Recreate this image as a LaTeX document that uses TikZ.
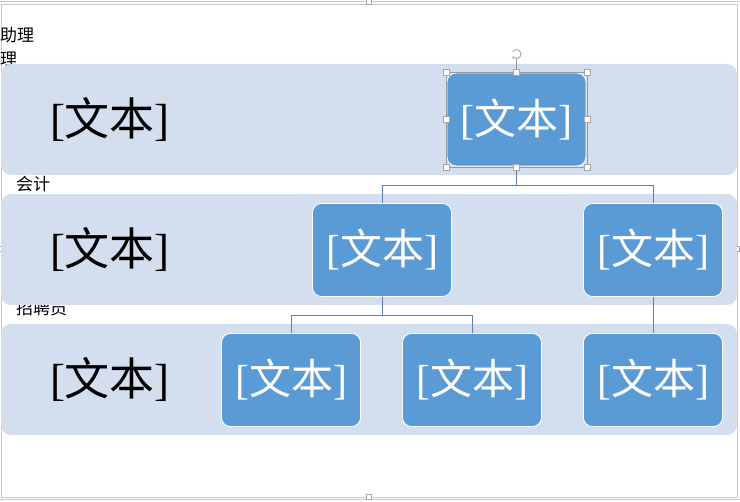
\documentclass[tikz,border=0pt]{standalone}
\usepackage{fontspec}
\newfontfamily\cjk{Noto Sans CJK SC}
\newfontfamily\brk{Liberation Serif}
\usetikzlibrary{arrows.meta}
\definecolor{bandc}{RGB}{211,222,239}
\definecolor{boxc}{RGB}{91,155,213}
\definecolor{linec}{RGB}{90,128,180}
\definecolor{framec}{RGB}{200,200,200}
\newcommand\wbtext{{\brk[}{\cjk 文本}{\brk]}}
\begin{document}
\begin{tikzpicture}[x=1pt,y=-1pt,
  band/.style={fill=bandc,draw=none,rounded corners=10pt,minimum width=736pt,minimum height=111pt,inner sep=0pt},
  orgbox/.style={fill=boxc,draw=white,line width=0.8pt,rounded corners=9pt,minimum width=139pt,minimum height=93pt,inner sep=0pt,text=white,font=\fontsize{42}{42}\selectfont},
  lefttext/.style={text=black,inner sep=0pt,font=\fontsize{45}{45}\selectfont},
  lbl/.style={anchor=west,inner sep=0pt,font=\cjk\fontsize{17}{17}\selectfont},
  conn/.style={draw=linec,line width=0.8pt},
  handle/.style={draw=gray!70,fill=white,line width=0.5pt,minimum size=6pt,inner sep=0pt}]
\useasboundingbox (0,0) rectangle (740,502);
% outer frame
\draw[framec,line width=0.8pt] (0,1) -- (740,1);
\draw[framec,line width=0.8pt] (1,4) rectangle (737,497);
\draw[framec,line width=0.8pt] (0,499.5) -- (740,499.5);
\node[handle,minimum size=5pt] (fh1) at (369,2) {};
\node[handle,minimum size=5pt] (fh2) at (369,497) {};
\node[handle,minimum size=5pt] (fh3) at (1,249) {};
\node[handle,minimum size=5pt] (fh4) at (737,249) {};
% labels (partly hidden by bands)
\node[lbl] (la) at (0,35) {助理};
\node[lbl] (lb) at (0,59) {理};
\node[lbl] (lc) at (16,184) {会计};
\node[lbl] (ld) at (16,308) {招聘员};
% bands
\node[band] (b1) at (369,119.5) {};
\node[band] (b2) at (369,249.5) {};
\node[band] (b3) at (369,379.5) {};
% left texts
\node[lefttext] (x1) at (110,119) {\wbtext};
\node[lefttext] (x2) at (110,249) {\wbtext};
\node[lefttext] (x3) at (110,379) {\wbtext};
% boxes
\node[orgbox] (t) at (516.5,119.5) {\wbtext};
\node[orgbox] (m1) at (382,250) {\wbtext};
\node[orgbox] (m2) at (653,250) {\wbtext};
\node[orgbox] (l1) at (291,380) {\wbtext};
\node[orgbox] (l2) at (472,380) {\wbtext};
\node[orgbox] (l3) at (653,380) {\wbtext};
% connectors
\draw[conn] (t.south) -- ++(0,19) -| (m1.north);
\draw[conn] (t.south) -- ++(0,19) -| (m2.north);
\draw[conn] (m1.south) -- ++(0,19) -| (l1.north);
\draw[conn] (m1.south) -- ++(0,19) -| (l2.north);
\draw[conn] (m2.south) -- (l3.north);
% selection frame
\coordinate (s1) at (446,72);
\coordinate (s2) at (587,167);
\draw[gray!80,line width=0.6pt] (s1) rectangle (s2);
\coordinate (rt) at (516.5,54);
\draw[gray!80,line width=0.6pt] (516.5,72) -- (516.5,59.5);
\draw[gray!70,line width=0.9pt,-{Stealth[length=2.5pt,width=3pt]}] ([shift={(150:4.5pt)}]rt) arc[start angle=150,end angle=-150,radius=4.5pt];
\node[handle] (h1) at (446,72) {};
\node[handle] (h2) at (516.5,72) {};
\node[handle] (h3) at (587,72) {};
\node[handle] (h4) at (446,119.5) {};
\node[handle] (h5) at (587,119.5) {};
\node[handle] (h6) at (446,167) {};
\node[handle] (h7) at (516.5,167) {};
\node[handle] (h8) at (587,167) {};
\end{tikzpicture}
\end{document}
